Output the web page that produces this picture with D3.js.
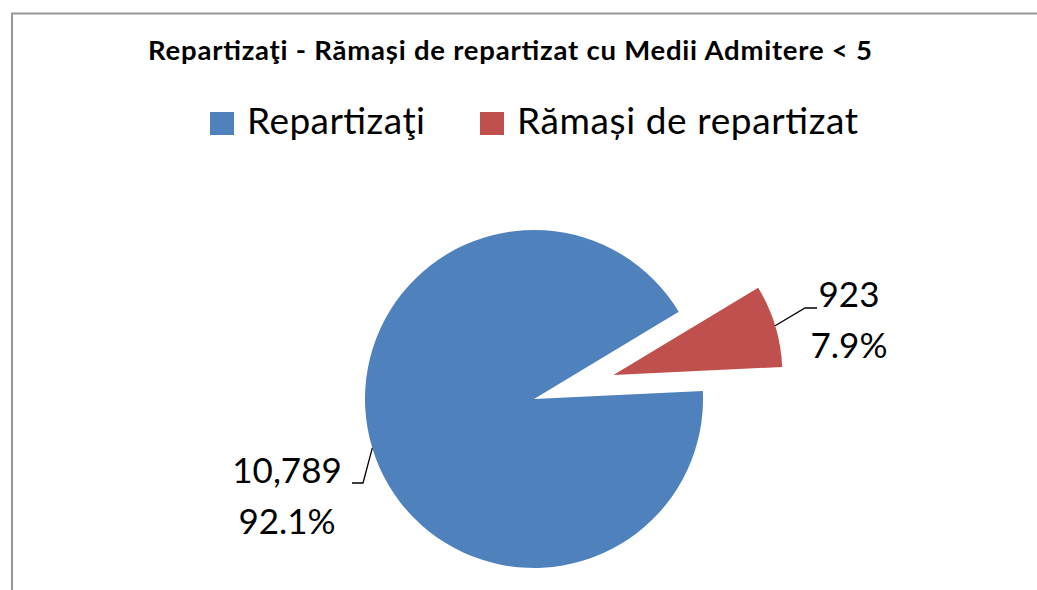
<!DOCTYPE html>
<html lang="ro">
<head>
    <meta charset="UTF-8">
    <title>Repartizaţi - Rămași de repartizat</title>
    <script src="https://d3js.org/d3.v7.min.js"></script>
    <style>
        body { margin: 0; overflow: hidden; background: white; }
        svg { display: block; font-family: Lato, "Open Sans", sans-serif; }
    </style>
</head>
<body>
    <svg id="chart"></svg>

    <script>
        // Dati
        const categories = ["Repartizaţi", "Rămași de repartizat"];
        const values = [10789, 923];
        const colors = ["#4F81BD", "#C0504D"];
        const titleText = "Repartizaţi - Rămași de repartizat cu Medii Admitere < 5";

        const width = 1037, height = 590;
        const cx = 534, cy = 399, radius = 169;
        const explode = [0, 83];           // spostamento della fetta staccata
        const startDeg = 87.3;

        const svg = d3.select("#chart")
            .attr("width", width)
            .attr("height", height);

        // cornice del grafico (tagliata a destra e in basso)
        svg.append("rect")
            .attr("x", 12).attr("y", 13.5)
            .attr("width", 1100).attr("height", 700)
            .attr("fill", "white")
            .attr("stroke", "#969696")
            .attr("stroke-width", 2);

        // titolo
        svg.append("text")
            .attr("x", 148).attr("y", 60)
            .attr("font-weight", "bold")
            .attr("font-size", 27.5)
            .attr("textLength", 724)
            .attr("lengthAdjust", "spacing")
            .text(titleText);

        // legenda
        const legendX = [210, 480];
        const legendW = [178, 341];
        const legend = svg.append("g");
        categories.forEach((c, i) => {
            legend.append("rect")
                .attr("x", legendX[i]).attr("y", 112)
                .attr("width", 24).attr("height", 23)
                .attr("fill", colors[i]);
            legend.append("text")
                .attr("x", legendX[i] + 37).attr("y", 134)
                .attr("font-size", 37)
                .attr("textLength", legendW[i])
                .attr("lengthAdjust", "spacing")
                .text(c);
        });

        // torta
        const total = d3.sum(values);
        const pie = d3.pie().sort(null)
            .startAngle(startDeg * Math.PI / 180)
            .endAngle(startDeg * Math.PI / 180 + 2 * Math.PI);
        const arc = d3.arc().innerRadius(0).outerRadius(radius);
        const arcs = pie(values);

        const g = svg.append("g").attr("transform", `translate(${cx},${cy})`);

        const off = d => {
            const a = (d.startAngle + d.endAngle) / 2;
            return [Math.sin(a) * explode[d.index], -Math.cos(a) * explode[d.index]];
        };

        g.selectAll("path.slice")
            .data(arcs)
            .join("path")
            .attr("class", "slice")
            .attr("d", arc)
            .attr("fill", (d, i) => colors[i])
            .attr("transform", d => `translate(${off(d)})`);

        // etichette con linee guida
        const fmt = d3.format(",");
        const pct = d3.format(".1%");
        // posizione etichetta (centro testo, baseline prima riga) relativa al centro
        const labelPos = [[-247, 84], [315, -92]];
        const elbow = [[-171, 84], [271, -91]];
        const lineEnd = [[-182, 84], [283, -91]];

        arcs.forEach((d, i) => {
            const a = (d.startAngle + d.endAngle) / 2;
            const o = off(d);
            const p0 = [o[0] + Math.sin(a) * radius, o[1] - Math.cos(a) * radius];
            g.append("polyline")
                .attr("points", [p0, elbow[i], lineEnd[i]].map(p => p.join(",")).join(" "))
                .attr("fill", "none")
                .attr("stroke", "black")
                .attr("stroke-width", 1.3);
            const t = g.append("text")
                .attr("text-anchor", "middle")
                .attr("font-size", 35)
                .attr("x", labelPos[i][0]).attr("y", labelPos[i][1]);
            t.append("tspan").attr("x", labelPos[i][0]).text(fmt(values[i]));
            t.append("tspan").attr("x", labelPos[i][0]).attr("dy", 51).text(pct(values[i] / total));
        });
    </script>
</body>
</html>
